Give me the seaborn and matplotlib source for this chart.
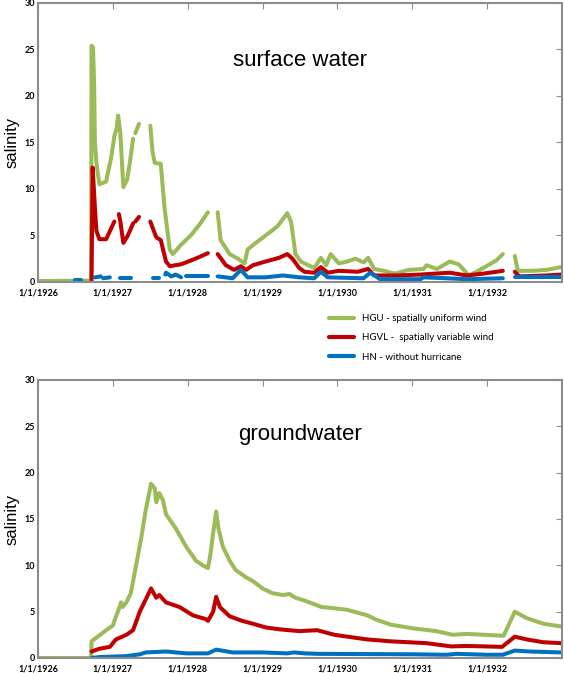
import numpy as np
import pandas as pd
import seaborn as sns
import matplotlib.pyplot as plt
from matplotlib.lines import Line2D

nan = np.nan

# axes
years = [1926, 1927, 1928, 1929, 1930, 1931, 1932]
year_labels = ["1/1/1926", "1/1/1927", "1/1/1928", "1/1/1929", "1/1/1930", "1/1/1931", "1/1/1932"]
y_ticks = [0, 5, 10, 15, 20, 25, 30]

series_names = ["HGU - spatially uniform wind", "HGVL -  spatially variable wind", "HN - without hurricane"]
series_colors = ["#9bbb59", "#c00000", "#0070c0"]

# surface water (time in decimal years, nan = gap in the record)
sw_hgu_t = [1926.0, 1926.69, 1926.71, 1926.715, 1926.735, 1926.75, 1926.76, 1926.78, 1926.82, 1926.91,
            1926.98, 1927.02, 1927.05, 1927.07, 1927.10, 1927.14, 1927.19, 1927.23, 1927.27, nan,
            1927.30, 1927.35, nan,
            1927.50, 1927.53, 1927.56, 1927.64, 1927.69, 1927.76, 1927.80, 1927.91, 1928.04, 1928.16, 1928.27, nan,
            1928.40, 1928.44, 1928.56, 1928.67, 1928.76, 1928.80, 1928.91, 1929.04, 1929.20, 1929.33,
            1929.38, 1929.44, 1929.51, 1929.69, 1929.78, 1929.85, 1929.91, 1930.02, 1930.13, 1930.24,
            1930.35, 1930.41, 1930.49, 1930.62, 1930.77, 1930.95, 1931.15, 1931.19, 1931.33, 1931.50,
            1931.62, 1931.70, 1931.75, 1931.86, 1931.99, 1932.12, 1932.21, nan,
            1932.37, 1932.41, 1932.61, 1932.79, 1932.99]
sw_hgu_v = [0.1, 0.15, 0.15, 25.4, 25.2, 21.0, 15.0, 12.8, 10.5, 10.8,
            13.5, 15.7, 16.5, 17.9, 16.0, 10.2, 11.0, 13.0, 15.4, nan,
            16.0, 17.0, nan,
            16.8, 14.0, 12.8, 12.7, 8.0, 3.5, 3.0, 4.0, 5.0, 6.2, 7.5, nan,
            7.5, 4.5, 3.0, 2.5, 2.0, 3.5, 4.2, 5.0, 6.0, 7.4,
            6.5, 3.0, 2.2, 1.5, 2.6, 1.8, 3.0, 2.0, 2.2, 2.5,
            2.1, 2.6, 1.4, 1.2, 0.9, 1.3, 1.4, 1.8, 1.4, 2.2,
            1.9, 1.2, 0.7, 1.1, 1.7, 2.3, 3.0, nan,
            2.8, 1.2, 1.2, 1.3, 1.6]

sw_hgvl_t = [1926.715, 1926.73, 1926.76, 1926.78, 1926.82, 1926.91, 1927.02, nan,
             1927.08, 1927.10, 1927.14, 1927.20, 1927.27, nan,
             1927.30, 1927.35, nan,
             1927.50, 1927.58, 1927.64, 1927.71, 1927.76, 1927.91, 1928.04, 1928.16, 1928.27, nan,
             1928.40, 1928.51, 1928.62, 1928.71, 1928.78, 1928.87, 1929.04, 1929.22, 1929.33, 1929.40,
             1929.49, 1929.56, 1929.69, 1929.78, 1929.87, 1930.02, 1930.27, 1930.41, 1930.49, 1930.80,
             1931.11, 1931.50, 1931.73, 1931.95, 1932.21, nan,
             1932.37, 1932.43, 1932.79, 1932.99]
sw_hgvl_v = [0.15, 12.3, 8.0, 5.5, 4.6, 4.6, 6.5, nan,
             7.3, 6.5, 4.2, 5.0, 6.3, nan,
             6.5, 7.0, nan,
             6.5, 4.8, 4.5, 2.2, 1.7, 1.9, 2.3, 2.7, 3.1, nan,
             3.0, 1.8, 1.3, 1.7, 1.3, 1.8, 2.2, 2.6, 3.0, 2.5,
             1.5, 1.1, 1.0, 1.6, 1.0, 1.2, 1.1, 1.4, 0.7, 0.7,
             0.8, 1.0, 0.7, 0.9, 1.2, nan,
             1.1, 0.6, 0.7, 0.8]

sw_hn_t = [1926.49, 1926.58, nan,
           1926.76, 1926.84, nan, 1926.87, 1926.96, nan,
           1927.09, 1927.24, nan,
           1927.53, 1927.62, nan,
           1927.70, 1927.71, 1927.78, 1927.84, 1927.91, nan,
           1927.98, 1928.27, nan,
           1928.40, 1928.60, 1928.71, 1928.80, 1929.04, 1929.27, 1929.49, 1929.69, 1929.78, 1929.87,
           1930.35, 1930.44, 1930.57, 1931.11, 1931.15, 1931.46, 1931.73, 1932.21, nan,
           1932.37, 1932.99]
sw_hn_v = [0.2, 0.2, nan,
           0.5, 0.6, nan, 0.4, 0.5, nan,
           0.4, 0.4, nan,
           0.4, 0.4, nan,
           0.8, 1.0, 0.6, 0.8, 0.5, nan,
           0.6, 0.6, nan,
           0.6, 0.4, 1.3, 0.5, 0.5, 0.7, 0.5, 0.4, 1.1, 0.5,
           0.4, 1.0, 0.3, 0.3, 0.5, 0.4, 0.3, 0.4, nan,
           0.5, 0.5]

# groundwater
gw_hgu_t = [1926.0, 1926.71, 1926.715, 1926.78, 1926.91, 1927.00, 1927.02, 1927.09, 1927.11, 1927.13,
            1927.18, 1927.24, 1927.31, 1927.38, 1927.44, 1927.51, 1927.56, 1927.58, 1927.62, 1927.67,
            1927.71, 1927.84, 1927.98, 1928.11, 1928.20, 1928.27, 1928.30, 1928.34, 1928.38, 1928.41,
            1928.47, 1928.56, 1928.64, 1928.78, 1928.87, 1929.00, 1929.13, 1929.27, 1929.36, 1929.44,
            1929.56, 1929.79, 1929.92, 1930.13, 1930.40, 1930.53, 1930.71, 1931.01, 1931.32, 1931.54,
            1931.72, 1932.22, 1932.37, 1932.53, 1932.75, 1932.99]
gw_hgu_v = [0.0, 0.0, 1.8, 2.2, 3.0, 3.5, 4.0, 5.5, 6.0, 5.5,
            6.0, 7.0, 10.0, 13.0, 16.0, 18.8, 18.3, 16.8, 17.8, 17.0,
            15.5, 14.0, 12.0, 10.5, 10.0, 9.7, 11.0, 13.5, 15.8, 14.0,
            12.0, 10.5, 9.5, 8.7, 8.3, 7.5, 7.0, 6.8, 6.9, 6.5,
            6.2, 5.5, 5.4, 5.2, 4.6, 4.1, 3.6, 3.2, 2.9, 2.5,
            2.6, 2.4, 5.0, 4.3, 3.7, 3.4]

gw_hgvl_t = [1926.715, 1926.82, 1926.96, 1927.04, 1927.18, 1927.27, 1927.36, 1927.51, 1927.58, 1927.62,
             1927.71, 1927.89, 1928.07, 1928.24, 1928.27, 1928.34, 1928.38, 1928.43, 1928.56, 1928.73,
             1928.87, 1929.04, 1929.22, 1929.49, 1929.73, 1929.96, 1930.40, 1930.71, 1931.19, 1931.52,
             1931.72, 1932.20, 1932.37, 1932.53, 1932.75, 1932.99]
gw_hgvl_v = [0.7, 1.0, 1.2, 2.0, 2.5, 3.0, 5.0, 7.5, 6.5, 6.8,
             6.0, 5.5, 4.6, 4.2, 4.0, 5.0, 6.6, 5.5, 4.5, 4.0,
             3.7, 3.3, 3.1, 2.9, 3.0, 2.5, 2.0, 1.8, 1.6, 1.25,
             1.3, 1.2, 2.3, 2.0, 1.7, 1.6]

gw_hn_t = [1926.715, 1926.82, 1927.18, 1927.36, 1927.44, 1927.71, 1927.98, 1928.27, 1928.38, 1928.60,
           1929.00, 1929.33, 1929.42, 1929.56, 1929.73, 1931.01, 1931.46, 1931.59, 1931.99, 1932.21,
           1932.37, 1932.57, 1932.99]
gw_hn_v = [0.0, 0.1, 0.2, 0.4, 0.6, 0.7, 0.5, 0.5, 0.9, 0.6,
           0.6, 0.5, 0.6, 0.5, 0.45, 0.4, 0.35, 0.45, 0.35, 0.35,
           0.8, 0.7, 0.6]


def to_frame(t, v, name):
    df = pd.DataFrame({"t": t, "v": v})
    df["seg"] = df["t"].isna().cumsum()
    df = df.dropna()
    df["serie"] = name
    return df


def draw_panel(ax, data, title, title_y):
    frames = [to_frame(t, v, n) for (t, v), n in zip(data, series_names)]
    df = pd.concat(frames, ignore_index=True)
    sns.lineplot(data=df, x="t", y="v", hue="serie", units="seg", estimator=None,
                 palette=dict(zip(series_names, series_colors)), hue_order=series_names,
                 linewidth=2.9, sort=False, legend=False, ax=ax)
    ax.set_xlim(1926, 1933)
    ax.set_ylim(0, 30)
    ax.set_xticks(years)
    ax.set_xticklabels(year_labels)
    ax.set_yticks(y_ticks)
    ax.set_xlabel("")
    ax.set_ylabel("salinity", fontsize=12, family="Liberation Sans", color="black", labelpad=4)
    ax.text(0.5, title_y, title, transform=ax.transAxes, ha="center", va="center",
            fontsize=16, family="Liberation Sans", color="black")
    for s in ax.spines.values():
        s.set_color("#8c8c8c")
        s.set_linewidth(1.5)
    ax.tick_params(axis="both", which="both", direction="in", length=4, color="#8c8c8c",
                   labelsize=6.5, labelcolor="black", pad=2, top=True, right=True, left=False)
    ax.tick_params(axis="x", pad=4.5)
    for lab in ax.get_xticklabels() + ax.get_yticklabels():
        lab.set_fontweight("bold")
        lab.set_family("Lato")


sns.set_style("white")
plt.rcParams["font.family"] = ["Lato", "DejaVu Sans"]

fig = plt.figure(figsize=(5.64, 6.73), dpi=100)
ax1 = fig.add_axes([0.0674, 0.581, 0.929, 0.4146])
ax2 = fig.add_axes([0.0674, 0.0223, 0.929, 0.4131])

draw_panel(ax1, [(sw_hgu_t, sw_hgu_v), (sw_hgvl_t, sw_hgvl_v), (sw_hn_t, sw_hn_v)], "surface water", 0.795)
draw_panel(ax2, [(gw_hgu_t, gw_hgu_v), (gw_hgvl_t, gw_hgvl_v), (gw_hn_t, gw_hn_v)], "groundwater", 0.805)

handles = [Line2D([], [], color=c, lw=3) for c in series_colors]
fig.legend(handles, series_names, loc="upper left", bbox_to_anchor=(0.583, 0.533),
           frameon=False, fontsize=7, handlelength=2.6, handletextpad=0.8,
           labelspacing=1.05, borderpad=0, borderaxespad=0, labelcolor="black")

fig.savefig("out.png", dpi=100)
